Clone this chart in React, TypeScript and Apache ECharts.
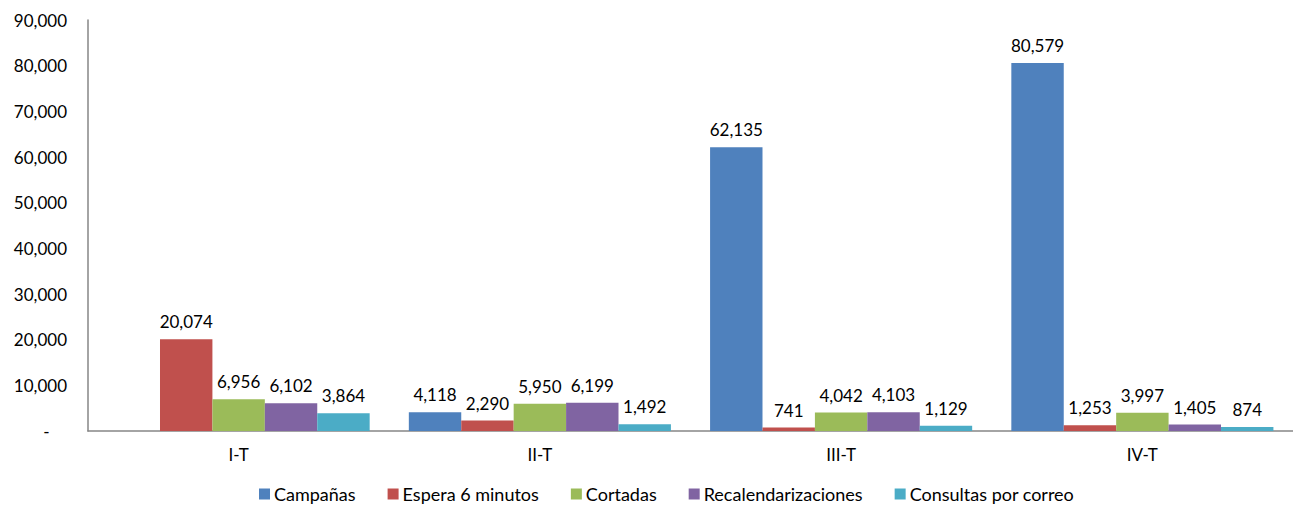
import React, { useEffect, useRef } from "react";
import * as echarts from "echarts";

const categories = ["I-T", "II-T", "III-T", "IV-T"];
const seriesNames = ["Campañas", "Espera 6 minutos", "Cortadas", "Recalendarizaciones", "Consultas por correo"];
const campanas = [null, 4118, 62135, 80579];
const espera = [20074, 2290, 741, 1253];
const cortadas = [6956, 5950, 4042, 3997];
const recalendarizaciones = [6102, 6199, 4103, 1405];
const consultas = [3864, 1492, 1129, 874];
const colors = ["#4F81BD", "#C0504D", "#9BBB59", "#8064A2", "#4BACC6"];

const fmt = (v: number) => v.toLocaleString("en-US");

export default function App() {
  const ref = useRef<HTMLDivElement>(null);
  useEffect(() => {
    if (!ref.current) return;
    const chart = echarts.init(ref.current, null, { renderer: "svg" });
    const font = "Lato, 'Open Sans', sans-serif";
    const data = [campanas, espera, cortadas, recalendarizaciones, consultas];
    chart.setOption({
      animation: false,
      textStyle: { fontFamily: font },
      grid: { left: 88, right: -14, top: 20, bottom: 75, containLabel: false },
      legend: {
        bottom: -2,
        left: 254,
        itemWidth: 11,
        itemHeight: 11,
        itemGap: 32,
        icon: "rect",
        textStyle: { fontSize: 18, color: "#000", fontFamily: font, padding: [0, 0, 0, -1] },
        data: seriesNames,
      },
      xAxis: {
        type: "category",
        data: categories,
        axisLine: { lineStyle: { color: "#868686", width: 1.5 } },
        axisTick: { show: false },
        axisLabel: { fontSize: 17, color: "#000", margin: 15, fontFamily: font },
      },
      yAxis: {
        type: "value",
        min: 0,
        max: 90000,
        interval: 10000,
        splitLine: { show: false },
        axisLine: { show: true, lineStyle: { color: "#868686", width: 1.5 } },
        axisTick: { show: false },
        axisLabel: {
          fontSize: 17,
          color: "#000",
          margin: 21,
          fontFamily: font,
          formatter: (v: number) => (v === 0 ? "-    " : fmt(v)),
        },
      },
      series: seriesNames.map((name, i) => ({
        name,
        type: "bar",
        data: data[i],
        barGap: "0%",
        barCategoryGap: "13%",
        itemStyle: { color: colors[i] },
        label: {
          show: true,
          position: "top",
          distance: 9,
          fontSize: 17,
          color: "#000",
          fontFamily: font,
          formatter: (p: any) => (p.value == null ? "" : fmt(p.value)),
        },
      })),
    });
    return () => chart.dispose();
  }, []);
  return (
    <div
      ref={ref}
      style={{ position: "fixed", left: 0, top: 0, width: 1293, height: 506, background: "#fff" }}
    />
  );
}
